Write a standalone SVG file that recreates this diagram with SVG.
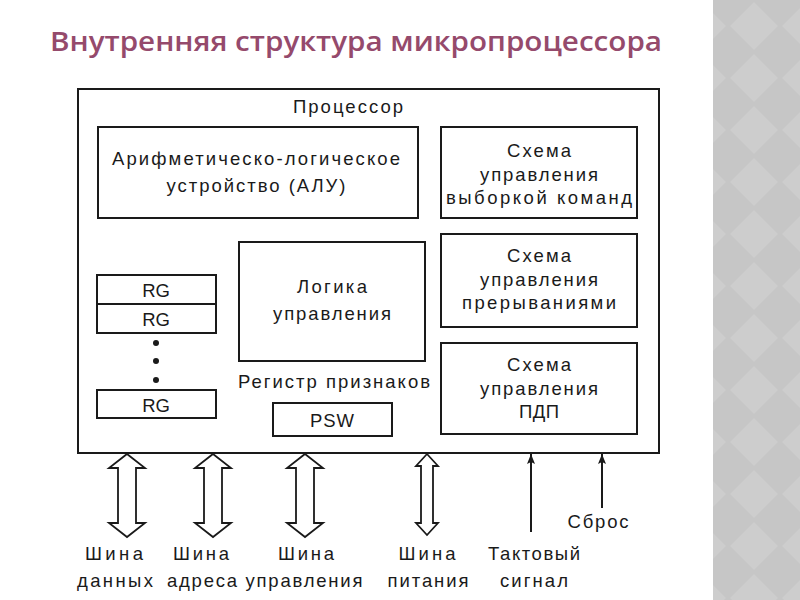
<svg xmlns="http://www.w3.org/2000/svg" width="800" height="600" viewBox="0 0 800 600">
<defs>
<style>
.t{font-family:"Liberation Sans",Arial,sans-serif;font-size:18.5px;fill:#1a1a1a;text-anchor:middle}
.box{fill:#fff;stroke:#1a1a1a;stroke-width:2}
.dbl{fill:#fff;stroke:#1a1a1a;stroke-width:1.8;stroke-linejoin:miter}
.ln{stroke:#1a1a1a;stroke-width:2;fill:none}
</style>
<pattern id="dia" width="52" height="52" patternUnits="userSpaceOnUse">
<rect width="52" height="52" fill="#c6c6c6"/>
<path d="M26 2 L50 26 L26 50 L2 26 Z" fill="#cdcdcd"/>
</pattern>
<marker id="ah" markerWidth="10" markerHeight="8" refX="10" refY="4" orient="auto" markerUnits="userSpaceOnUse" viewBox="0 0 10 8">
<path d="M0 0 L10 4 L0 8 L2 4 Z" fill="#1a1a1a"/>
</marker>
</defs>
<rect width="800" height="600" fill="#fff"/>
<rect x="713" y="0" width="87" height="600" fill="url(#dia)"/>
<text x="50" y="51" font-family="'Open Sans','DejaVu Sans',sans-serif" font-size="27" font-weight="600" fill="#954a6c" textLength="612" lengthAdjust="spacingAndGlyphs">Внутренняя структура микропроцессора</text>

<g id="processor">
<rect class="box" x="78" y="89" width="581" height="364"/>
<text class="t" x="348" y="113" textLength="110">Процессор</text>
</g>
<g id="alu">
<rect class="box" x="98" y="127" width="320" height="91"/>
<text class="t" x="256" y="165" textLength="288">Арифметическо-логическое</text>
<text class="t" x="256" y="192" textLength="179">устройство (АЛУ)</text>
</g>
<g id="fetch">
<rect class="box" x="441" y="127" width="196" height="91"/>
<text class="t" x="539" y="157" textLength="64">Схема</text>
<text class="t" x="539" y="181" textLength="118">управления</text>
<text class="t" x="539" y="204" textLength="186">выборкой команд</text>
</g>
<g id="interrupts">
<rect class="box" x="441" y="234" width="196" height="93"/>
<text class="t" x="539" y="262" textLength="64">Схема</text>
<text class="t" x="539" y="286" textLength="118">управления</text>
<text class="t" x="539" y="309" textLength="154">прерываниями</text>
</g>
<g id="dma">
<rect class="box" x="441" y="343" width="196" height="91"/>
<text class="t" x="539" y="371" textLength="64">Схема</text>
<text class="t" x="539" y="395" textLength="118">управления</text>
<text class="t" x="539" y="418" textLength="40">ПДП</text>
</g>
<g id="logic">
<rect class="box" x="239" y="242" width="186" height="119"/>
<text class="t" x="332" y="293" textLength="70">Логика</text>
<text class="t" x="332" y="320" textLength="118">управления</text>
</g>
<g id="flags">
<text class="t" x="334" y="388" textLength="192">Регистр признаков</text>
<rect class="box" x="273" y="403" width="119" height="33"/>
<text class="t" x="332" y="427" textLength="44">PSW</text>
</g>
<g id="registers">
<rect class="box" x="97" y="275" width="119" height="29"/>
<rect class="box" x="97" y="304" width="119" height="29"/>
<text class="t" x="156" y="297">RG</text>
<text class="t" x="156" y="326">RG</text>
<circle cx="156" cy="343" r="3" fill="#1a1a1a"/>
<circle cx="156" cy="361" r="3" fill="#1a1a1a"/>
<circle cx="156" cy="380" r="3" fill="#1a1a1a"/>
<rect class="box" x="97" y="390" width="119" height="28"/>
<text class="t" x="156" y="412">RG</text>
</g>

<g id="connectors">
<polygon class="dbl" points="127,454 145,468 136,468 136,523 145,523 127,537 109,523 118,523 118,468 109,468"/>
<polygon class="dbl" points="213,454 231,468 222,468 222,523 231,523 213,537 195,523 204,523 204,468 195,468"/>
<polygon class="dbl" points="305,454 323,468 314,468 314,523 323,523 305,537 287,523 296,523 296,468 287,468"/>
<polygon class="dbl" points="427,454 438,466 433,466 433,523 438,523 427,535 416,523 421,523 421,466 416,466"/>
<line class="ln" x1="531" y1="532" x2="531" y2="454" marker-end="url(#ah)"/>
<line class="ln" x1="602" y1="508" x2="602" y2="454" marker-end="url(#ah)"/>
</g>

<g id="labels">
<text class="t" x="114" y="560" textLength="58">Шина</text>
<text class="t" x="115" y="587" textLength="76">данных</text>
<text class="t" x="201" y="560" textLength="56">Шина</text>
<text class="t" x="202" y="587" textLength="70">адреса</text>
<text class="t" x="306" y="560" textLength="56">Шина</text>
<text class="t" x="304" y="587" textLength="117">управления</text>
<text class="t" x="427" y="560" textLength="57">Шина</text>
<text class="t" x="428" y="587" textLength="81">питания</text>
<text class="t" x="534" y="560" textLength="92">Тактовый</text>
<text class="t" x="534" y="587" textLength="68">сигнал</text>
<text class="t" x="598" y="528" textLength="61">Сброс</text>
</g>
</svg>
